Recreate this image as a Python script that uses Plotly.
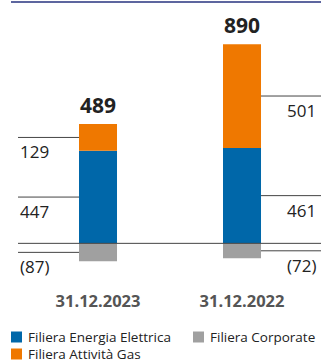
import plotly.graph_objects as go

# Data (EUR million)
dates = ["31.12.2023", "31.12.2022"]
energia_elettrica = [447, 461]
attivita_gas = [129, 501]
corporate = [-87, -72]
series_names = ["Filiera Energia Elettrica", "Filiera Attività Gas", "Filiera Corporate"]

BLUE = "#0067a9"
ORANGE = "#ef7800"
GREY = "#a0a0a0"
LINE = "#444444"
TEXT = "#222222"
FONT = "Open Sans"

xpos = [0, 1]
bar_w = 0.264
x_left, x_right = -0.6806, 1.5486
label_left_x = -0.5556   # left column of values for the first bar
label_right_x = 1.5278   # right column of values for the second bar

fig = go.Figure()
fig.add_bar(x=xpos, y=energia_elettrica, width=bar_w, marker_color=BLUE,
            marker_line_width=0, name=series_names[0])
fig.add_bar(x=xpos, y=attivita_gas, width=bar_w, marker_color=ORANGE,
            marker_line_width=0, name=series_names[1])
fig.add_bar(x=xpos, y=corporate, width=bar_w, marker_color=GREY,
            marker_line_width=0, name=series_names[2])


def fmt(v):
    return f"({abs(v)})" if v < 0 else f"{v}"


shapes = []
annotations = []

# zero line
shapes.append(dict(type="line", xref="x", yref="y", x0=label_left_x, x1=x_right,
                   y0=0, y1=0, line=dict(color=LINE, width=1), layer="above"))

for i, x in enumerate(xpos):
    e, g, c = energia_elettrica[i], attivita_gas[i], corporate[i]
    mids = [(e / 2, e), (e + g / 2, g), (c / 2, c)]
    if i == 0:
        lx0, lx1, ax, anchor = label_left_x, x - bar_w / 2, label_left_x, "left"
    else:
        lx0, lx1, ax, anchor = x + bar_w / 2, x_right, label_right_x, "right"
    for ym, val in mids:
        shapes.append(dict(type="line", xref="x", yref="y", x0=lx0, x1=lx1,
                           y0=ym, y1=ym, line=dict(color=LINE, width=1)))
        annotations.append(dict(x=ax, y=ym, xref="x", yref="y", text=fmt(val),
                                showarrow=False, xanchor=anchor, yanchor="top",
                                yshift=-1,
                                font=dict(family=FONT, size=17, color=TEXT)))
    total = e + g + c
    annotations.append(dict(x=x, y=e + g, xref="x", yref="y", text=f"<b>{total}</b>",
                            showarrow=False, xanchor="center", yanchor="bottom",
                            yshift=3,
                            font=dict(family=FONT, size=21, color=TEXT)))

# top rule
shapes.append(dict(type="line", xref="paper", yref="paper", x0=11 / 321, x1=1,
                   y0=1.0296, y1=1.0296, line=dict(color="#27337f", width=1.5)))

# legend built from squares and labels
legend_items = [
    (series_names[0], BLUE, 11, 337),
    (series_names[2], GREY, 193, 337),
    (series_names[1], ORANGE, 11, 354),
]
top, bottom, W = 10, 280, 321
H = bottom - top
for name, col, px, py in legend_items:
    shapes.append(dict(type="rect", xref="paper", yref="paper",
                       x0=px / W, x1=(px + 11) / W,
                       y0=(bottom - (py + 5.5)) / H, y1=(bottom - (py - 5.5)) / H,
                       fillcolor=col, line=dict(width=0)))
    annotations.append(dict(x=(px + 15) / W, y=(bottom - py) / H, xref="paper", yref="paper",
                            text=name, showarrow=False, xanchor="left", yanchor="middle",
                            font=dict(family=FONT, size=13.5, color=TEXT)))

fig.update_layout(
    width=321, height=363,
    margin=dict(l=0, r=0, t=top, b=363 - bottom),
    barmode="relative",
    showlegend=False,
    plot_bgcolor="white", paper_bgcolor="white",
    xaxis=dict(range=[x_left, x_right], tickvals=xpos, ticktext=dates,
               showgrid=False, zeroline=False, showline=False,
               ticks="outside", ticklen=6, tickcolor="rgba(0,0,0,0)",
               tickfont=dict(family=FONT, size=16.5, color="#555555", weight="bold")),
    yaxis=dict(range=[-177, 1127], visible=False, showgrid=False, zeroline=False),
    shapes=shapes,
    annotations=annotations,
)

fig.write_html("out.html")
